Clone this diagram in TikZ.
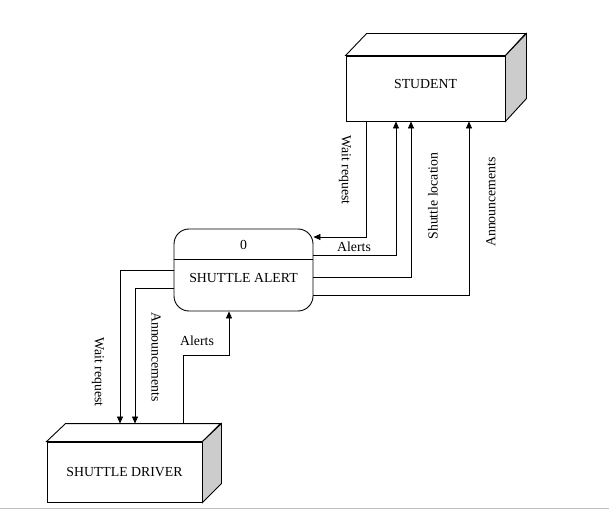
\documentclass[tikz,border=0pt]{standalone}
\usepackage{fontspec}
\setmainfont{Liberation Serif}
\usetikzlibrary{arrows.meta,calc}
\begin{document}
\begin{tikzpicture}[x=1pt,y=-1pt,
  every node/.style={font=\fontsize{13.8}{16}\selectfont, inner sep=0pt},
  entity/.style={draw, line width=0.9pt, rectangle, fill=white},
  side/.style={draw, line width=0.9pt, fill=gray!40, line join=miter},
  topface/.style={draw, line width=0.9pt, fill=white, line join=miter},
  procbox/.style={draw, line width=0.9pt, rounded corners=15pt, minimum width=139pt, minimum height=82pt},
  flow/.style={draw, line width=0.7pt, -{Triangle[width=6pt,length=7pt]}},
  lbl/.style={font=\fontsize{13.8}{16}\selectfont}
]
\useasboundingbox (0,0) rectangle (609,510);
\draw[gray!50, line width=0.8pt] (0,508) -- (609,508);

% STUDENT entity
\node[entity, minimum width=159pt, minimum height=65pt] (student) at (425.5,88.5) {};
\draw[topface] (student.north west) -- ++(21,-22) -- ++(159,0) -- (student.north east) -- cycle;
\draw[side] (student.north east) -- ++(21,-22) -- ++(0,65) -- (student.south east) -- cycle;
\node (studentname) at (425.5,84) {STUDENT};

% SHUTTLE DRIVER entity
\node[entity, minimum width=155pt, minimum height=60pt] (driver) at (124.5,472) {SHUTTLE DRIVER};
\draw[topface] (driver.north west) -- ++(19,-18) -- ++(155,0) -- (driver.north east) -- cycle;
\draw[side] (driver.north east) -- ++(19,-18) -- ++(0,60) -- (driver.south east) -- cycle;
\coordinate (dtop) at ($(driver.north west)+(19,-18)$);

% Process
\node[procbox] (proc) at (243.5,270) {};
\draw[line width=0.9pt] (proc.west |- 0,259) -- (proc.east |- 0,259);
\node (pid) at (243.5,245) {0};
\node (pname) at (243.5,278) {SHUTTLE ALERT};

% corner coordinates
\coordinate (c1) at (366,237);
\coordinate (c2) at (396,255);
\coordinate (c3) at (411,277);
\coordinate (c4) at (469,295);
\coordinate (c5) at (120,270);
\coordinate (c6) at (135,288);
\coordinate (c7) at (183,355);
\coordinate (c8) at (229,355);

% Right side flows
\draw[flow] (student.south -| c1) |- (proc.east |- c1);
\draw[flow] (proc.east |- c2) -| (student.south -| c2);
\draw[flow] (proc.east |- c3) -| (student.south -| c3);
\draw[flow] (proc.east |- c4) -| (student.south -| c4);

% Left side flows
\draw[flow] (proc.west |- c5) -| (c5 |- dtop);
\draw[flow] (proc.west |- c6) -| (c6 |- dtop);
\draw[flow] (c7 |- dtop) -- (c7) -- (c8) -- (proc.south -| c8);

% Labels
\node[lbl, rotate=-90] (l1) at (345,170) {Wait request};
\node[lbl] (l2) at (354,247) {Alerts};
\node[lbl, rotate=90] (l3) at (433,196) {Shuttle location};
\node[lbl, rotate=90] (l4) at (491,202) {Announcements};
\node[lbl, rotate=-90] (l5) at (98,372) {Wait request};
\node[lbl, rotate=-90] (l6) at (156,357) {Announcements};
\node[lbl] (l7) at (197,341) {Alerts};
\end{tikzpicture}
\end{document}
